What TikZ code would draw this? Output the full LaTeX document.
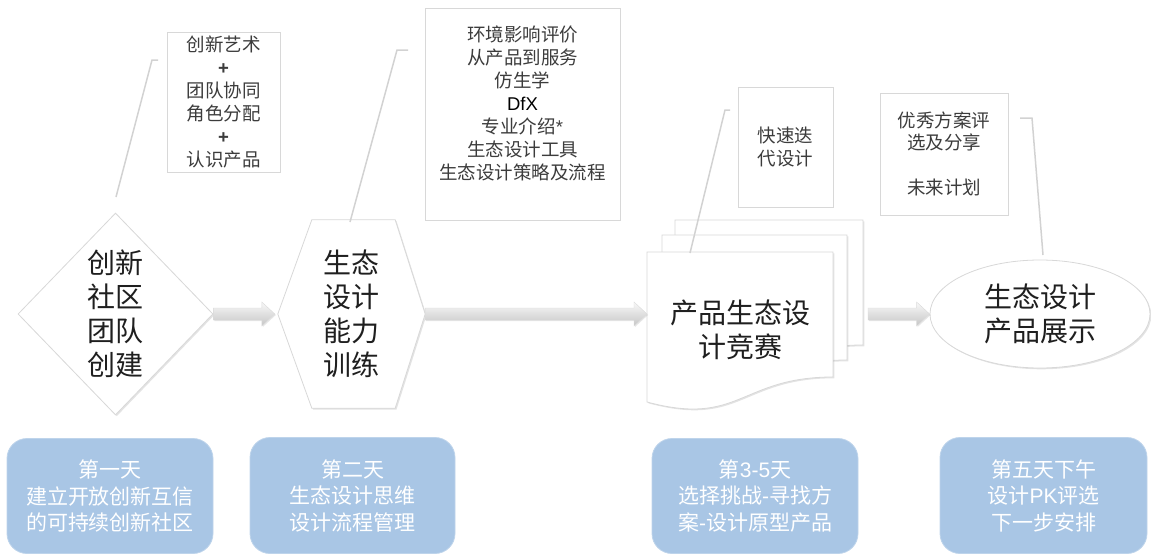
\documentclass[tikz,border=0pt]{standalone}
\usepackage{fontspec}
\setmainfont{Noto Sans CJK SC}
\newfontfamily\lat{Liberation Sans}
\usetikzlibrary{shapes.geometric,shadows,calc,backgrounds}
\definecolor{boxblue}{HTML}{A9C6E5}
\definecolor{edgegray}{HTML}{D8D8D8}
\definecolor{txtgray}{HTML}{3C3C3C}
\definecolor{linegray}{HTML}{D2D2D2}
\newcommand\blockarr[2]{%
  \path[blockarrow] let \p1=(#1), \p2=(#2) in
    (\x1,\y1+6pt) -- (\x2-13pt,\y1+6pt) -- (\x2-13pt,\y1+12pt) -- (\x2,\y1)
    -- (\x2-13pt,\y1-12pt) -- (\x2-13pt,\y1-6pt) -- (\x1,\y1-6pt) -- cycle;}
\newcommand\docshape[3]{%
  \path[shp] (#1,#2) -- ++(#3,0) -- ++(0,125)
    .. controls +(-0.5*#3,0) and +(0.5*#3,25) .. ++(-#3,25) -- cycle;}
\begin{document}
\begin{tikzpicture}[x=1pt,y=-1pt,
  shp/.style={draw=edgegray, line width=0.8pt, fill=white,
    drop shadow={shadow xshift=1.3pt, shadow yshift=-1.3pt, opacity=0.22}},
  bigtxt/.style={font=\fontsize{28}{34}\selectfont, align=center, text=black!88, inner sep=0pt},
  callbox/.style={shp, inner sep=0pt, align=center, font=\fontsize{18.5}{23}\selectfont, text=txtgray},
  daybox/.style={fill=boxblue, draw=boxblue!75!white, line width=0.8pt, rounded corners=20pt,
    inner sep=0pt, align=center, text=white, font=\fontsize{21}{26.5}\selectfont},
  leader/.style={draw=linegray, line width=1.5pt},
  blockarrow/.style={top color=gray!5, bottom color=gray!45, draw=gray!28, line width=0.4pt,
    drop shadow={shadow xshift=1pt, shadow yshift=-1pt, opacity=0.2}},
]
\useasboundingbox (0,0) rectangle (1151,554);

% ---- main shapes ----
\node[shp, diamond, minimum width=195pt, minimum height=202pt, bigtxt] (dia) at (115.5,314)
  {创新\\社区\\团队\\创建};

\node[bigtxt, minimum width=147pt, minimum height=188pt] (hex) at (351.5,314)
  {生态\\设计\\能力\\训练};
\begin{scope}[on background layer]
  \path[shp] ($(hex.north west)+(34,0)$) -- ($(hex.north east)+(-30,0)$) -- (hex.east)
    -- ($(hex.south east)+(-30,0)$) -- ($(hex.south west)+(34,0)$) -- (hex.west) -- cycle;
\end{scope}

\docshape{675}{220}{188}
\docshape{662}{235}{185}
\docshape{647}{252}{186}
\node[bigtxt] (doc) at (740,330) {产品生态设\\计竞赛};
\coordinate (docW) at (647,314);
\coordinate (docE) at (863,314);

\node[shp, ellipse, minimum width=220pt, minimum height=108pt, bigtxt] (ell) at (1040,314)
  {生态设计\\产品展示};

% ---- arrows ----
\coordinate (a1e) at ($(hex.west)+(-3,0)$);
\blockarr{dia.east}{a1e}
\blockarr{hex.east}{docW}
\coordinate (a3s) at ($(docE)+(5,0)$);
\blockarr{a3s}{ell.west}

% ---- callout boxes ----
\node[callbox, minimum width=113pt, minimum height=140pt] (b1) at (223.5,102)
  {创新艺术\\{\lat\bfseries +}\\团队协同\\角色分配\\{\lat\bfseries +}\\认识产品};
\node[callbox, minimum width=195pt, minimum height=212pt] (b2) at (522.5,114)
  {环境影响评价\\从产品到服务\\仿生学\\{\lat\color{black}DfX}\\专业介绍{\lat *}\\生态设计工具\\生态设计策略及流程\\~};
\node[callbox, minimum width=95pt, minimum height=120pt] (b3) at (785.5,147)
  {快速迭\\代设计};
\node[callbox, minimum width=128pt, minimum height=122pt, font=\fontsize{18.5}{22.5}\selectfont] (b4) at (944,154)
  {优秀方案评\\选及分享\\~\\未来计划};

% ---- callout leaders ----
\coordinate (l1a) at (116,197); \coordinate (l1b) at (152,60); \coordinate (l1c) at (158,60);
\draw[leader] (l1a) -- (l1b) -- (l1c);
\coordinate (l2a) at (350,222); \coordinate (l2b) at (397,50); \coordinate (l2c) at (408,50);
\draw[leader] (l2a) -- (l2b) -- (l2c);
\coordinate (l3a) at (690,253); \coordinate (l3b) at (725,110); \coordinate (l3c) at (730,110);
\draw[leader] (l3a) -- (l3b) -- (l3c);
\coordinate (l4a) at (1020,118); \coordinate (l4b) at (1032,118); \coordinate (l4c) at (1043,255);
\draw[leader] (l4a) -- (l4b) -- (l4c);

% ---- day boxes ----
\node[daybox, minimum width=206pt, minimum height=115pt] (d1) at (110,496)
  {第一天\\建立开放创新互信\\的可持续创新社区};
\node[daybox, minimum width=205pt, minimum height=116pt] (d2) at (352.5,495.5)
  {第二天\\生态设计思维\\设计流程管理};
\node[daybox, minimum width=206pt, minimum height=115pt] (d3) at (755,496)
  {第{\lat 3-5}天\\选择挑战{\lat -}寻找方\\案{\lat -}设计原型产品};
\node[daybox, minimum width=207pt, minimum height=116pt] (d4) at (1043.5,495.5)
  {第五天下午\\设计{\lat PK}评选\\下一步安排};
\end{tikzpicture}
\end{document}
